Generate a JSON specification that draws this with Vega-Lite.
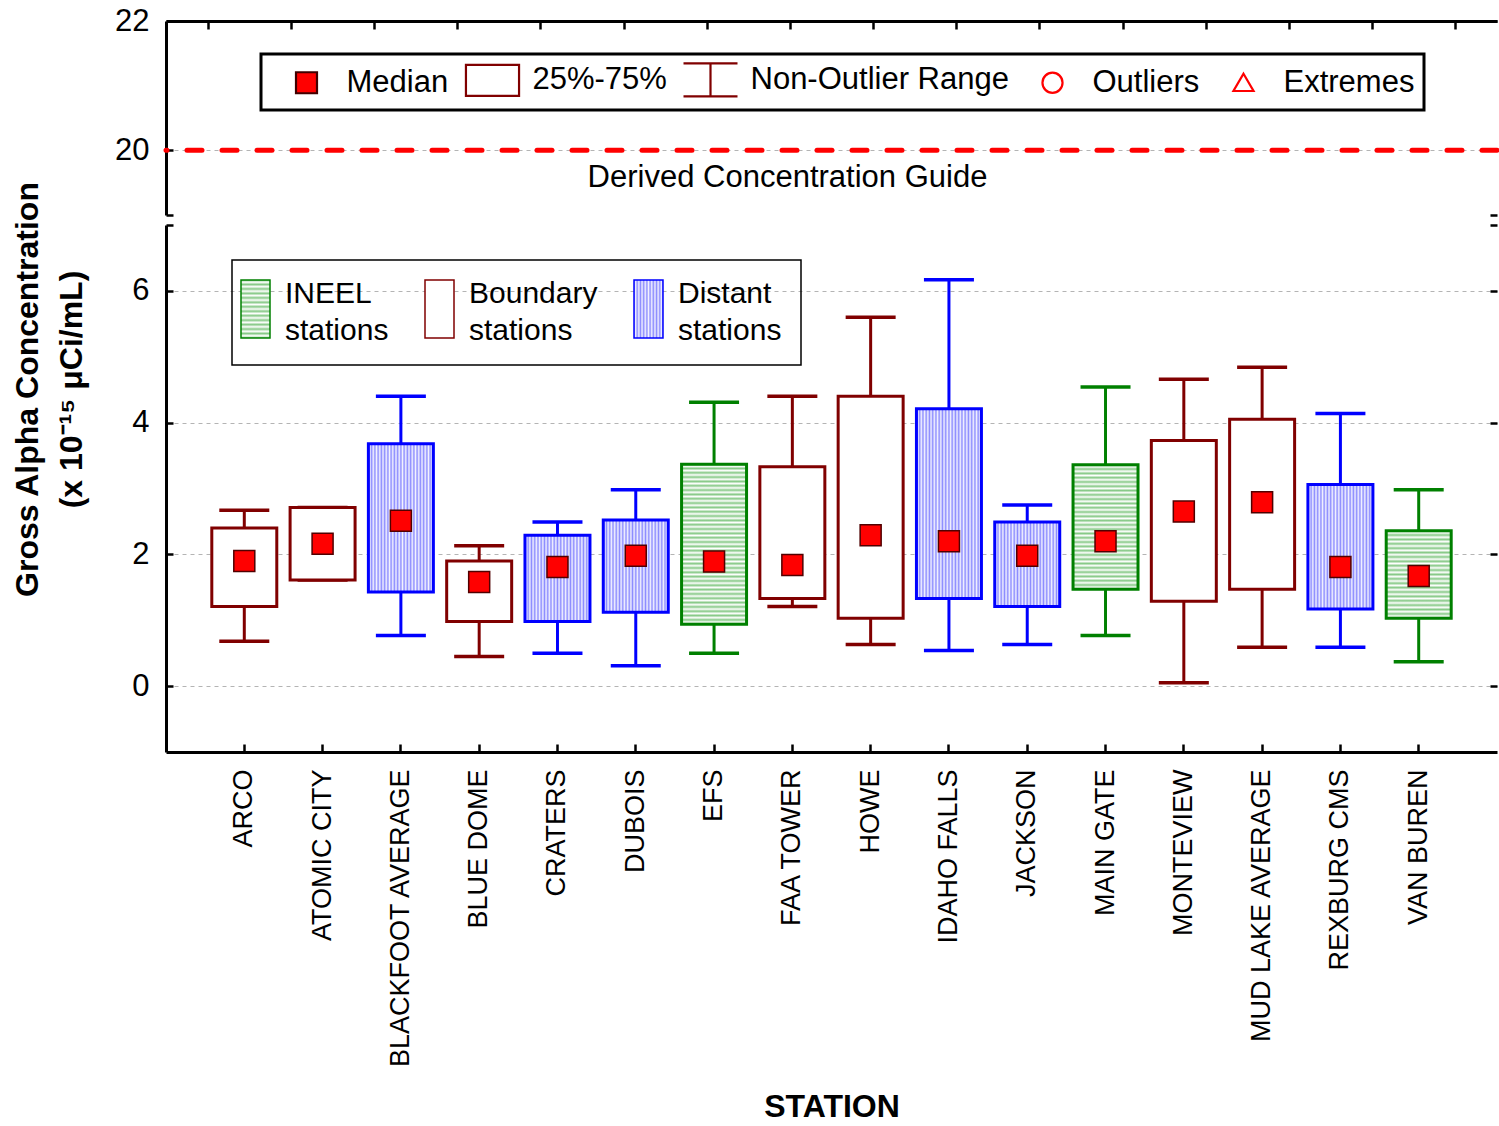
{
  "$schema": "https://vega.github.io/schema/vega-lite/v6.json",
  "padding": {"left": 11, "top": 5, "right": 0, "bottom": 0},
  "background": "white",
  "spacing": 10,
  "bounds": "flush",
  "config": {
    "view": {"stroke": null},
    "font": "Liberation Sans",
    "axis": {"domainColor": "black", "domainWidth": 3, "tickColor": "black", "tickWidth": 2.5, "tickSize": -7, "labelColor": "black", "labelFont": "Liberation Sans", "gridColor": "#b4b4b4", "gridDash": [4, 4], "gridWidth": 1, "titleColor": "black", "titleFont": "Liberation Sans"}
  },
  "datasets": {
    "stations": [
      {"station": "ARCO", "type": "Boundary stations", "lo": 0.68, "q1": 1.21, "median": 1.90, "q3": 2.40, "hi": 2.67},
      {"station": "ATOMIC CITY", "type": "Boundary stations", "lo": 1.61, "q1": 1.61, "median": 2.16, "q3": 2.71, "hi": 2.71},
      {"station": "BLACKFOOT AVERAGE", "type": "Distant stations", "lo": 0.77, "q1": 1.43, "median": 2.51, "q3": 3.68, "hi": 4.40},
      {"station": "BLUE DOME", "type": "Boundary stations", "lo": 0.45, "q1": 0.98, "median": 1.58, "q3": 1.90, "hi": 2.13},
      {"station": "CRATERS", "type": "Distant stations", "lo": 0.50, "q1": 0.98, "median": 1.81, "q3": 2.29, "hi": 2.49},
      {"station": "DUBOIS", "type": "Distant stations", "lo": 0.31, "q1": 1.12, "median": 1.98, "q3": 2.52, "hi": 2.98},
      {"station": "EFS", "type": "INEEL stations", "lo": 0.50, "q1": 0.94, "median": 1.89, "q3": 3.37, "hi": 4.31},
      {"station": "FAA TOWER", "type": "Boundary stations", "lo": 1.21, "q1": 1.33, "median": 1.84, "q3": 3.33, "hi": 4.40},
      {"station": "HOWE", "type": "Boundary stations", "lo": 0.63, "q1": 1.03, "median": 2.29, "q3": 4.40, "hi": 5.60},
      {"station": "IDAHO FALLS", "type": "Distant stations", "lo": 0.54, "q1": 1.33, "median": 2.20, "q3": 4.21, "hi": 6.17},
      {"station": "JACKSON", "type": "Distant stations", "lo": 0.63, "q1": 1.21, "median": 1.98, "q3": 2.49, "hi": 2.75},
      {"station": "MAIN GATE", "type": "INEEL stations", "lo": 0.77, "q1": 1.47, "median": 2.20, "q3": 3.36, "hi": 4.54},
      {"station": "MONTEVIEW", "type": "Boundary stations", "lo": 0.05, "q1": 1.29, "median": 2.65, "q3": 3.73, "hi": 4.66},
      {"station": "MUD LAKE AVERAGE", "type": "Boundary stations", "lo": 0.59, "q1": 1.47, "median": 2.79, "q3": 4.05, "hi": 4.84},
      {"station": "REXBURG CMS", "type": "Distant stations", "lo": 0.59, "q1": 1.17, "median": 1.81, "q3": 3.06, "hi": 4.14},
      {"station": "VAN BUREN", "type": "INEEL stations", "lo": 0.37, "q1": 1.03, "median": 1.67, "q3": 2.36, "hi": 2.98}
    ],
    "dcg": [{"guide": 20, "label": "Derived Concentration Guide"}],
    "keys": [{"item": "Median"}, {"item": "25%-75%"}, {"item": "Non-Outlier Range"}, {"item": "Outliers"}, {"item": "Extremes"}]
  },
  "vconcat": [
    {
      "width": 1331,
      "height": 194,
      "layer": [
        {
          "data": {"name": "stations"},
          "mark": {"type": "point", "shape": "square", "size": 441, "filled": true, "fill": "#ff0000", "stroke": "#500000", "strokeWidth": 1.5, "opacity": 1, "clip": true},
          "encoding": {
            "x": {"field": "station", "type": "nominal", "sort": null,
              "scale": {"domain": ["ARCO", "ATOMIC CITY", "BLACKFOOT AVERAGE", "BLUE DOME", "CRATERS", "DUBOIS", "EFS", "FAA TOWER", "HOWE", "IDAHO FALLS", "JACKSON", "MAIN GATE", "MONTEVIEW", "MUD LAKE AVERAGE", "REXBURG CMS", "VAN BUREN"], "paddingInner": 0.17, "paddingOuter": 0.585},
              "axis": {"orient": "top", "labels": false, "title": null, "grid": false, "tickSize": -8}},
            "y": {"field": "median", "type": "quantitative", "scale": {"domain": [19, 22], "nice": false, "zero": false},
              "axis": {"orient": "left", "values": [19, 20, 22], "labelExpr": "datum.value == 19 ? '' : datum.label", "labelFontSize": 31, "labelPadding": 24, "title": null, "grid": true, "gridOpacity": {"condition": {"test": "datum.value == 20", "value": 1}, "value": 0}}}
          }
        },
        {
          "data": {"name": "dcg"},
          "mark": {"type": "rule", "stroke": "#ff0000", "strokeWidth": 5, "strokeDash": [15, 20], "strokeCap": "round"},
          "encoding": {
            "y": {"field": "guide", "type": "quantitative", "scale": {"domain": [19, 22], "nice": false, "zero": false},
              "axis": {"orient": "right", "values": [19, 20, 22], "labels": false, "domain": false, "grid": false, "title": null}}
          }
        },
        {
          "data": {"name": "dcg"},
          "mark": {"type": "text", "baseline": "top", "align": "center", "dy": 13, "dx": -44, "fontSize": 31, "font": "Liberation Sans", "color": "black"},
          "encoding": {
            "y": {"field": "guide", "type": "quantitative", "axis": null},
            "text": {"field": "label"}
          }
        },
        {
          "data": {"name": "keys"},
          "mark": {"type": "rule", "opacity": 0},
          "encoding": {
            "y": {"datum": 20, "type": "quantitative", "axis": null},
            "stroke": {"field": "item", "type": "nominal",
              "scale": {"domain": ["Median", "25%-75%", "Non-Outlier Range", "Outliers", "Extremes"], "range": ["#400000", "#800000", "#800000", "#ff0000", "#ff0000"]},
              "legend": {
                "orient": "none", "legendX": 95, "legendY": 33, "direction": "horizontal", "title": null,
                "labelFontSize": 31, "labelFont": "Liberation Sans", "labelColor": "black", "labelLimit": 500,
                "symbolType": "square", "symbolSize": 900, "symbolStrokeWidth": 2.2, "symbolOpacity": 1, "symbolOffset": 20, "labelOffset": 23.5,
                "columnPadding": 7, "padding": 9, "strokeColor": "black",
                "encode": {
                  "legend": {"update": {"strokeWidth": {"value": 3}}},
                  "symbols": {"update": {
                    "opacity": {"value": 1},
                    "strokeDash": {"value": []},
                    "shape": [
                      {"test": "datum.value === 'Median'", "value": "M-0.7,-0.7H0.7V0.7H-0.7Z"},
                      {"test": "datum.value === '25%-75%'", "value": "M-1.77,-1.03H1.77V1.03H-1.77Z"},
                      {"test": "datum.value === 'Non-Outlier Range'", "value": "M-1.8,-1.1H1.8M0,-1.1V1.1M-1.8,1.1H1.8"},
                      {"test": "datum.value === 'Outliers'", "value": "M-0.67,0A0.67,0.67,0,1,1,0.67,0A0.67,0.67,0,1,1,-0.67,0Z"},
                      {"value": "M0,-0.6L0.67,0.55L-0.67,0.55Z"}
                    ],
                    "fill": [{"test": "datum.value === 'Median'", "value": "#ff0000"}, {"value": "transparent"}]
                  }}
                }
              }}
          }
        }
      ],
      "resolve": {"axis": {"y": "independent"}}
    },
    {
      "width": 1331,
      "height": 527,
      "data": {"name": "stations"},
      "encoding": {
        "x": {"field": "station", "type": "nominal", "sort": null,
          "scale": {"domain": ["ARCO", "ATOMIC CITY", "BLACKFOOT AVERAGE", "BLUE DOME", "CRATERS", "DUBOIS", "EFS", "FAA TOWER", "HOWE", "IDAHO FALLS", "JACKSON", "MAIN GATE", "MONTEVIEW", "MUD LAKE AVERAGE", "REXBURG CMS", "VAN BUREN"], "paddingInner": 0.17, "paddingOuter": 0.585},
          "axis": {"orient": "bottom", "labelAngle": -90, "labelFontSize": 27, "labelLimit": 500, "labelPadding": 25, "title": "STATION", "titleFontSize": 32, "titleFontWeight": "bold", "titleY": 339, "grid": false, "tickSize": -8}}
      },
      "layer": [
        {
          "mark": {"type": "rule", "strokeWidth": 3},
          "encoding": {
            "y": {"field": "lo", "type": "quantitative", "scale": {"domain": [-1, 7], "nice": false, "zero": false},
              "axis": {"orient": "left", "values": [0, 2, 4, 6, 7], "labelExpr": "datum.value == 7 ? '' : datum.label", "labelFontSize": 31, "labelPadding": 24, "grid": true, "gridOpacity": {"condition": {"test": "datum.value == 7", "value": 0}, "value": 1},
                "title": ["Gross Alpha Concentration", "(x 10⁻¹⁵ μCi/mL)"], "titleFontSize": 32, "titleFontWeight": "bold", "titleLineHeight": 44, "titleY": 164, "titlePadding": 43}},
            "y2": {"field": "hi"},
            "stroke": {"field": "type", "type": "nominal",
              "scale": {"domain": ["INEEL stations", "Boundary stations", "Distant stations"], "range": ["#008000", "#800000", "#0000ff"]},
              "legend": {
                "orient": "none", "legendX": 66, "legendY": 35, "direction": "horizontal", "title": null,
                "labelFontSize": 30, "labelFont": "Liberation Sans", "labelColor": "black", "labelLimit": 500, "labelExpr": "split(datum.label, ' ')",
                "symbolType": "M-0.5,-1H0.5V1H-0.5Z", "symbolSize": 3364, "symbolStrokeWidth": 1.5, "symbolOffset": -25.5, "labelOffset": -0.5,
                "columnPadding": 33, "padding": 19, "strokeColor": "black",
                "encode": {
                  "legend": {"update": {"strokeWidth": {"value": 1.5}}},
                  "labels": {"update": {"lineHeight": {"value": 37}, "dy": {"value": -15}}},
                  "symbols": {"update": {
                    "opacity": {"value": 1},
                    "strokeDash": {"value": []},
                    "fill": [
                      {"test": "datum.value === 'INEEL stations'", "value": {"gradient": "linear", "x1": 0, "y1": 0, "x2": 0, "y2": 1, "stops": [{"offset": 0, "color": "#86c986"}, {"offset": 0.03846, "color": "#ffffff"}, {"offset": 0.07692, "color": "#86c986"}, {"offset": 0.11538, "color": "#ffffff"}, {"offset": 0.15385, "color": "#86c986"}, {"offset": 0.19231, "color": "#ffffff"}, {"offset": 0.23077, "color": "#86c986"}, {"offset": 0.26923, "color": "#ffffff"}, {"offset": 0.30769, "color": "#86c986"}, {"offset": 0.34615, "color": "#ffffff"}, {"offset": 0.38462, "color": "#86c986"}, {"offset": 0.42308, "color": "#ffffff"}, {"offset": 0.46154, "color": "#86c986"}, {"offset": 0.5, "color": "#ffffff"}, {"offset": 0.53846, "color": "#86c986"}, {"offset": 0.57692, "color": "#ffffff"}, {"offset": 0.61538, "color": "#86c986"}, {"offset": 0.65385, "color": "#ffffff"}, {"offset": 0.69231, "color": "#86c986"}, {"offset": 0.73077, "color": "#ffffff"}, {"offset": 0.76923, "color": "#86c986"}, {"offset": 0.80769, "color": "#ffffff"}, {"offset": 0.84615, "color": "#86c986"}, {"offset": 0.88462, "color": "#ffffff"}, {"offset": 0.92308, "color": "#86c986"}, {"offset": 0.96154, "color": "#ffffff"}, {"offset": 1, "color": "#86c986"}]}},
                      {"test": "datum.value === 'Distant stations'", "value": {"gradient": "linear", "x1": 0, "y1": 0, "x2": 1, "y2": 0, "stops": [{"offset": 0, "color": "#8c8cff"}, {"offset": 0.05556, "color": "#f2f2ff"}, {"offset": 0.11111, "color": "#8c8cff"}, {"offset": 0.16667, "color": "#f2f2ff"}, {"offset": 0.22222, "color": "#8c8cff"}, {"offset": 0.27778, "color": "#f2f2ff"}, {"offset": 0.33333, "color": "#8c8cff"}, {"offset": 0.38889, "color": "#f2f2ff"}, {"offset": 0.44444, "color": "#8c8cff"}, {"offset": 0.5, "color": "#f2f2ff"}, {"offset": 0.55556, "color": "#8c8cff"}, {"offset": 0.61111, "color": "#f2f2ff"}, {"offset": 0.66667, "color": "#8c8cff"}, {"offset": 0.72222, "color": "#f2f2ff"}, {"offset": 0.77778, "color": "#8c8cff"}, {"offset": 0.83333, "color": "#f2f2ff"}, {"offset": 0.88889, "color": "#8c8cff"}, {"offset": 0.94444, "color": "#f2f2ff"}, {"offset": 1, "color": "#8c8cff"}]}},
                      {"value": "#ffffff"}
                    ]
                  }}
                }
              }}
          }
        },
        {
          "mark": {"type": "tick", "orient": "horizontal", "size": 47, "thickness": 0.5, "filled": false, "strokeWidth": 3, "opacity": 1},
          "encoding": {
            "y": {"field": "hi", "type": "quantitative", "scale": {"domain": [-1, 7], "nice": false, "zero": false}, "axis": null},
            "stroke": {"field": "type", "type": "nominal", "scale": {"domain": ["INEEL stations", "Boundary stations", "Distant stations"], "range": ["#008000", "#800000", "#0000ff"]}}
          }
        },
        {
          "mark": {"type": "tick", "orient": "horizontal", "size": 47, "thickness": 0.5, "filled": false, "strokeWidth": 3, "opacity": 1},
          "encoding": {
            "y": {"field": "lo", "type": "quantitative", "scale": {"domain": [-1, 7], "nice": false, "zero": false}, "axis": null},
            "stroke": {"field": "type", "type": "nominal", "scale": {"domain": ["INEEL stations", "Boundary stations", "Distant stations"], "range": ["#008000", "#800000", "#0000ff"]}}
          }
        },
        {
          "mark": {"type": "bar", "strokeWidth": 3},
          "encoding": {
            "y": {"field": "q1", "type": "quantitative", "scale": {"domain": [-1, 7], "nice": false, "zero": false}, "axis": null},
            "y2": {"field": "q3"},
            "stroke": {"field": "type", "type": "nominal", "scale": {"domain": ["INEEL stations", "Boundary stations", "Distant stations"], "range": ["#008000", "#800000", "#0000ff"]}},
            "fill": {
              "condition": [
                {"test": "datum.type === 'Distant stations'", "value": {"gradient": "linear", "x1": 0, "y1": 0, "x2": 1, "y2": 0, "stops": [{"offset": 0, "color": "#8c8cff"}, {"offset": 0.025, "color": "#f2f2ff"}, {"offset": 0.05, "color": "#8c8cff"}, {"offset": 0.075, "color": "#f2f2ff"}, {"offset": 0.1, "color": "#8c8cff"}, {"offset": 0.125, "color": "#f2f2ff"}, {"offset": 0.15, "color": "#8c8cff"}, {"offset": 0.175, "color": "#f2f2ff"}, {"offset": 0.2, "color": "#8c8cff"}, {"offset": 0.225, "color": "#f2f2ff"}, {"offset": 0.25, "color": "#8c8cff"}, {"offset": 0.275, "color": "#f2f2ff"}, {"offset": 0.3, "color": "#8c8cff"}, {"offset": 0.325, "color": "#f2f2ff"}, {"offset": 0.35, "color": "#8c8cff"}, {"offset": 0.375, "color": "#f2f2ff"}, {"offset": 0.4, "color": "#8c8cff"}, {"offset": 0.425, "color": "#f2f2ff"}, {"offset": 0.45, "color": "#8c8cff"}, {"offset": 0.475, "color": "#f2f2ff"}, {"offset": 0.5, "color": "#8c8cff"}, {"offset": 0.525, "color": "#f2f2ff"}, {"offset": 0.55, "color": "#8c8cff"}, {"offset": 0.575, "color": "#f2f2ff"}, {"offset": 0.6, "color": "#8c8cff"}, {"offset": 0.625, "color": "#f2f2ff"}, {"offset": 0.65, "color": "#8c8cff"}, {"offset": 0.675, "color": "#f2f2ff"}, {"offset": 0.7, "color": "#8c8cff"}, {"offset": 0.725, "color": "#f2f2ff"}, {"offset": 0.75, "color": "#8c8cff"}, {"offset": 0.775, "color": "#f2f2ff"}, {"offset": 0.8, "color": "#8c8cff"}, {"offset": 0.825, "color": "#f2f2ff"}, {"offset": 0.85, "color": "#8c8cff"}, {"offset": 0.875, "color": "#f2f2ff"}, {"offset": 0.9, "color": "#8c8cff"}, {"offset": 0.925, "color": "#f2f2ff"}, {"offset": 0.95, "color": "#8c8cff"}, {"offset": 0.975, "color": "#f2f2ff"}, {"offset": 1, "color": "#8c8cff"}]}},
                {"test": "datum.station === 'EFS'", "value": {"gradient": "linear", "x1": 0, "y1": 0, "x2": 0, "y2": 1, "stops": [{"offset": 0, "color": "#86c986"}, {"offset": 0.01351, "color": "#ffffff"}, {"offset": 0.02703, "color": "#86c986"}, {"offset": 0.04054, "color": "#ffffff"}, {"offset": 0.05405, "color": "#86c986"}, {"offset": 0.06757, "color": "#ffffff"}, {"offset": 0.08108, "color": "#86c986"}, {"offset": 0.0946, "color": "#ffffff"}, {"offset": 0.10811, "color": "#86c986"}, {"offset": 0.12162, "color": "#ffffff"}, {"offset": 0.13514, "color": "#86c986"}, {"offset": 0.14865, "color": "#ffffff"}, {"offset": 0.16216, "color": "#86c986"}, {"offset": 0.17568, "color": "#ffffff"}, {"offset": 0.18919, "color": "#86c986"}, {"offset": 0.2027, "color": "#ffffff"}, {"offset": 0.21622, "color": "#86c986"}, {"offset": 0.22973, "color": "#ffffff"}, {"offset": 0.24324, "color": "#86c986"}, {"offset": 0.25676, "color": "#ffffff"}, {"offset": 0.27027, "color": "#86c986"}, {"offset": 0.28378, "color": "#ffffff"}, {"offset": 0.2973, "color": "#86c986"}, {"offset": 0.31081, "color": "#ffffff"}, {"offset": 0.32432, "color": "#86c986"}, {"offset": 0.33784, "color": "#ffffff"}, {"offset": 0.35135, "color": "#86c986"}, {"offset": 0.36486, "color": "#ffffff"}, {"offset": 0.37838, "color": "#86c986"}, {"offset": 0.39189, "color": "#ffffff"}, {"offset": 0.40541, "color": "#86c986"}, {"offset": 0.41892, "color": "#ffffff"}, {"offset": 0.43243, "color": "#86c986"}, {"offset": 0.44595, "color": "#ffffff"}, {"offset": 0.45946, "color": "#86c986"}, {"offset": 0.47297, "color": "#ffffff"}, {"offset": 0.48649, "color": "#86c986"}, {"offset": 0.5, "color": "#ffffff"}, {"offset": 0.51351, "color": "#86c986"}, {"offset": 0.52703, "color": "#ffffff"}, {"offset": 0.54054, "color": "#86c986"}, {"offset": 0.55405, "color": "#ffffff"}, {"offset": 0.56757, "color": "#86c986"}, {"offset": 0.58108, "color": "#ffffff"}, {"offset": 0.59459, "color": "#86c986"}, {"offset": 0.60811, "color": "#ffffff"}, {"offset": 0.62162, "color": "#86c986"}, {"offset": 0.63514, "color": "#ffffff"}, {"offset": 0.64865, "color": "#86c986"}, {"offset": 0.66216, "color": "#ffffff"}, {"offset": 0.67568, "color": "#86c986"}, {"offset": 0.68919, "color": "#ffffff"}, {"offset": 0.7027, "color": "#86c986"}, {"offset": 0.71622, "color": "#ffffff"}, {"offset": 0.72973, "color": "#86c986"}, {"offset": 0.74324, "color": "#ffffff"}, {"offset": 0.75676, "color": "#86c986"}, {"offset": 0.77027, "color": "#ffffff"}, {"offset": 0.78378, "color": "#86c986"}, {"offset": 0.7973, "color": "#ffffff"}, {"offset": 0.81081, "color": "#86c986"}, {"offset": 0.82432, "color": "#ffffff"}, {"offset": 0.83784, "color": "#86c986"}, {"offset": 0.85135, "color": "#ffffff"}, {"offset": 0.86486, "color": "#86c986"}, {"offset": 0.87838, "color": "#ffffff"}, {"offset": 0.89189, "color": "#86c986"}, {"offset": 0.90541, "color": "#ffffff"}, {"offset": 0.91892, "color": "#86c986"}, {"offset": 0.93243, "color": "#ffffff"}, {"offset": 0.94595, "color": "#86c986"}, {"offset": 0.95946, "color": "#ffffff"}, {"offset": 0.97297, "color": "#86c986"}, {"offset": 0.98649, "color": "#ffffff"}, {"offset": 1, "color": "#86c986"}]}},
                {"test": "datum.station === 'MAIN GATE'", "value": {"gradient": "linear", "x1": 0, "y1": 0, "x2": 0, "y2": 1, "stops": [{"offset": 0, "color": "#86c986"}, {"offset": 0.01724, "color": "#ffffff"}, {"offset": 0.03448, "color": "#86c986"}, {"offset": 0.05172, "color": "#ffffff"}, {"offset": 0.06897, "color": "#86c986"}, {"offset": 0.08621, "color": "#ffffff"}, {"offset": 0.10345, "color": "#86c986"}, {"offset": 0.12069, "color": "#ffffff"}, {"offset": 0.13793, "color": "#86c986"}, {"offset": 0.15517, "color": "#ffffff"}, {"offset": 0.17241, "color": "#86c986"}, {"offset": 0.18966, "color": "#ffffff"}, {"offset": 0.2069, "color": "#86c986"}, {"offset": 0.22414, "color": "#ffffff"}, {"offset": 0.24138, "color": "#86c986"}, {"offset": 0.25862, "color": "#ffffff"}, {"offset": 0.27586, "color": "#86c986"}, {"offset": 0.2931, "color": "#ffffff"}, {"offset": 0.31034, "color": "#86c986"}, {"offset": 0.32759, "color": "#ffffff"}, {"offset": 0.34483, "color": "#86c986"}, {"offset": 0.36207, "color": "#ffffff"}, {"offset": 0.37931, "color": "#86c986"}, {"offset": 0.39655, "color": "#ffffff"}, {"offset": 0.41379, "color": "#86c986"}, {"offset": 0.43103, "color": "#ffffff"}, {"offset": 0.44828, "color": "#86c986"}, {"offset": 0.46552, "color": "#ffffff"}, {"offset": 0.48276, "color": "#86c986"}, {"offset": 0.5, "color": "#ffffff"}, {"offset": 0.51724, "color": "#86c986"}, {"offset": 0.53448, "color": "#ffffff"}, {"offset": 0.55172, "color": "#86c986"}, {"offset": 0.56897, "color": "#ffffff"}, {"offset": 0.58621, "color": "#86c986"}, {"offset": 0.60345, "color": "#ffffff"}, {"offset": 0.62069, "color": "#86c986"}, {"offset": 0.63793, "color": "#ffffff"}, {"offset": 0.65517, "color": "#86c986"}, {"offset": 0.67241, "color": "#ffffff"}, {"offset": 0.68966, "color": "#86c986"}, {"offset": 0.7069, "color": "#ffffff"}, {"offset": 0.72414, "color": "#86c986"}, {"offset": 0.74138, "color": "#ffffff"}, {"offset": 0.75862, "color": "#86c986"}, {"offset": 0.77586, "color": "#ffffff"}, {"offset": 0.7931, "color": "#86c986"}, {"offset": 0.81034, "color": "#ffffff"}, {"offset": 0.82759, "color": "#86c986"}, {"offset": 0.84483, "color": "#ffffff"}, {"offset": 0.86207, "color": "#86c986"}, {"offset": 0.87931, "color": "#ffffff"}, {"offset": 0.89655, "color": "#86c986"}, {"offset": 0.91379, "color": "#ffffff"}, {"offset": 0.93103, "color": "#86c986"}, {"offset": 0.94828, "color": "#ffffff"}, {"offset": 0.96552, "color": "#86c986"}, {"offset": 0.98276, "color": "#ffffff"}, {"offset": 1, "color": "#86c986"}]}},
                {"test": "datum.station === 'VAN BUREN'", "value": {"gradient": "linear", "x1": 0, "y1": 0, "x2": 0, "y2": 1, "stops": [{"offset": 0, "color": "#86c986"}, {"offset": 0.025, "color": "#ffffff"}, {"offset": 0.05, "color": "#86c986"}, {"offset": 0.075, "color": "#ffffff"}, {"offset": 0.1, "color": "#86c986"}, {"offset": 0.125, "color": "#ffffff"}, {"offset": 0.15, "color": "#86c986"}, {"offset": 0.175, "color": "#ffffff"}, {"offset": 0.2, "color": "#86c986"}, {"offset": 0.225, "color": "#ffffff"}, {"offset": 0.25, "color": "#86c986"}, {"offset": 0.275, "color": "#ffffff"}, {"offset": 0.3, "color": "#86c986"}, {"offset": 0.325, "color": "#ffffff"}, {"offset": 0.35, "color": "#86c986"}, {"offset": 0.375, "color": "#ffffff"}, {"offset": 0.4, "color": "#86c986"}, {"offset": 0.425, "color": "#ffffff"}, {"offset": 0.45, "color": "#86c986"}, {"offset": 0.475, "color": "#ffffff"}, {"offset": 0.5, "color": "#86c986"}, {"offset": 0.525, "color": "#ffffff"}, {"offset": 0.55, "color": "#86c986"}, {"offset": 0.575, "color": "#ffffff"}, {"offset": 0.6, "color": "#86c986"}, {"offset": 0.625, "color": "#ffffff"}, {"offset": 0.65, "color": "#86c986"}, {"offset": 0.675, "color": "#ffffff"}, {"offset": 0.7, "color": "#86c986"}, {"offset": 0.725, "color": "#ffffff"}, {"offset": 0.75, "color": "#86c986"}, {"offset": 0.775, "color": "#ffffff"}, {"offset": 0.8, "color": "#86c986"}, {"offset": 0.825, "color": "#ffffff"}, {"offset": 0.85, "color": "#86c986"}, {"offset": 0.875, "color": "#ffffff"}, {"offset": 0.9, "color": "#86c986"}, {"offset": 0.925, "color": "#ffffff"}, {"offset": 0.95, "color": "#86c986"}, {"offset": 0.975, "color": "#ffffff"}, {"offset": 1, "color": "#86c986"}]}}
              ],
              "value": "#ffffff"
            }
          }
        },
        {
          "mark": {"type": "point", "shape": "square", "size": 441, "filled": true, "fill": "#ff0000", "stroke": "#500000", "strokeWidth": 1.5, "opacity": 1},
          "encoding": {
            "y": {"field": "median", "type": "quantitative", "scale": {"domain": [-1, 7], "nice": false, "zero": false},
              "axis": {"orient": "right", "values": [0, 2, 4, 6, 7], "labels": false, "domain": false, "grid": false, "title": null}}
          }
        }
      ],
      "resolve": {"axis": {"y": "independent"}}
    }
  ],
  "resolve": {"scale": {"stroke": "independent"}, "legend": {"stroke": "independent"}}
}
